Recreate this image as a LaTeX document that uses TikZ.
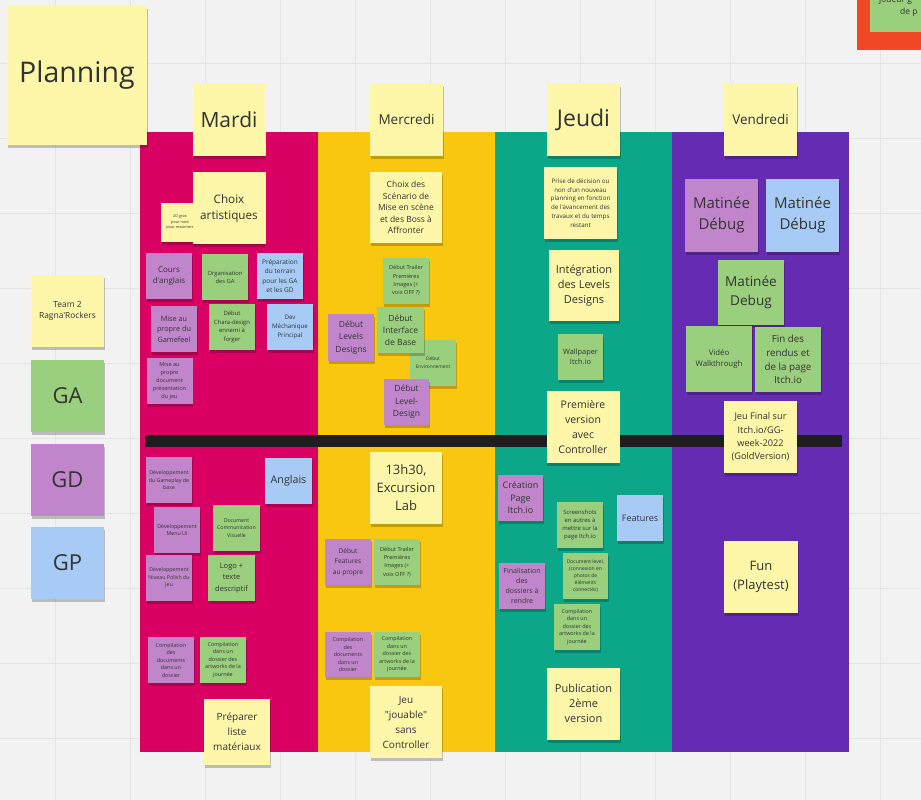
\documentclass[tikz,border=0pt]{standalone}
\usepackage{fontspec}
\setmainfont{Open Sans}[Ligatures=TeXOff]
\usetikzlibrary{shadows}

\definecolor{fond}{HTML}{F2F2F2}
\definecolor{grille}{HTML}{E4E4E4}
\definecolor{colmardi}{HTML}{DA0063}
\definecolor{colmercredi}{HTML}{FAC710}
\definecolor{coljeudi}{HTML}{0CA789}
\definecolor{colvendredi}{HTML}{652CB3}
\definecolor{barre}{HTML}{1E1E1E}
\definecolor{notejaune}{HTML}{FEF6A9}
\definecolor{notevert}{HTML}{9ACF7D}
\definecolor{noteviolet}{HTML}{C185CB}
\definecolor{notebleu}{HTML}{A7CBF4}
\definecolor{rouge}{HTML}{F24726}
\definecolor{encre}{HTML}{333333}

\newcommand\taille[2]{\fontsize{#1}{#2}\selectfont}

\begin{document}
\begin{tikzpicture}[x=1pt, y=-1pt]
\tikzset{postit/.style={rectangle, inner sep=0pt, align=center, text=encre,
    drop shadow={shadow xshift=0.5pt, shadow yshift=-3pt, opacity=0.22, fill=black}},
  jaune/.style={postit, fill=notejaune},
  vert/.style={postit, fill=notevert},
  violet/.style={postit, fill=noteviolet},
  bleu/.style={postit, fill=notebleu},
  grand/.style={minimum width=73pt, minimum height=72pt},
  moyen/.style={minimum width=66pt, minimum height=66pt},
  petit/.style={minimum width=46pt, minimum height=46pt}}
\useasboundingbox (0,0) rectangle (921,800);
\fill[fond] (0,0) rectangle (921,800);
\foreach \x in {55,130,...,880} \draw[grille, line width=0.8pt] (\x,0) -- (\x,800);
\foreach \y in {63,138,...,738} \draw[grille, line width=0.8pt] (0,\y) -- (921,\y);
% colonnes des jours
\fill[colmardi] (140,132) rectangle (318,752);
\fill[colmercredi] (318,132) rectangle (495,752);
\fill[coljeudi] (495,132) rectangle (672,752);
\fill[colvendredi] (672,132) rectangle (849,752);
\fill[barre] (145,435) rectangle (842,447);
% coin haut droit
\fill[rouge] (857,-10) rectangle (930,50);
\fill[notevert] (870,-10) rectangle (930,32);
\node[anchor=base west, text=encre, font=\taille{8.5}{11}, inner sep=0pt] (coinA) at (879,3) {joueur g};
\node[anchor=base west, text=encre, font=\taille{8.5}{11}, inner sep=0pt] (coinB) at (900,15) {de p};
% titres
\node[jaune, minimum width=140pt, minimum height=139pt, font=\taille{28.5}{36}] (planning) at (77,75.5) {Planning};
\node[jaune, grand, font=\taille{21}{28}] (mardi) at (229,119.5) {Mardi};
\node[jaune, grand, font=\taille{13.5}{18}] (mercredi) at (406.5,119.5) {Mercredi};
\node[jaune, grand, font=\taille{23}{30}] (jeudi) at (583.5,119.5) {Jeudi};
\node[jaune, grand, font=\taille{13.5}{18}] (vendredi) at (760.5,119.5) {Vendredi};
% equipe
\node[jaune, grand, font=\taille{8.4}{11.6}] (team) at (67.5,311) {Team 2\\Ragna'Rockers};
\node[vert, grand, font=\taille{22}{28}] (GA) at (67.5,395.5) {GA};
\node[violet, grand, font=\taille{22}{28}] (GD) at (67.5,479.5) {GD};
\node[bleu, grand, font=\taille{22}{28}] (GP) at (67.5,562.5) {GP};
% mardi
\node[jaune, minimum width=39pt, minimum height=39pt, font=\taille{3.8}{5.5}] (gros) at (180,222.5) {2D gros\\pour note\\pour maximme};
\node[jaune, grand, font=\taille{11.7}{16}] (choix) at (229,208) {Choix\\artistiques};
\node[violet, petit, font=\taille{8}{11}] (cours) at (169,276) {Cours\\d'anglais};
\node[vert, petit, font=\taille{5.8}{8}] (orga) at (225,277) {Organisation\\des GA};
\node[bleu, petit, font=\taille{6.5}{9.3}] (prepa) at (280,276) {Préparation\\du terrain\\pour les GA\\et les GD};
\node[violet, petit, font=\taille{7.3}{10.5}] (gamefeel) at (174,329) {Mise au\\propre du\\Gamefeel};
\node[vert, petit, font=\taille{5.9}{8.6}] (chara) at (232,327) {Début\\Chara-design\\ennemi à\\forger};
\node[bleu, petit, font=\taille{6.2}{8.7}] (meca) at (290,327) {Dev\\Méchanique\\Principal};
\node[violet, petit, font=\taille{5.6}{8}] (presjeu) at (169.5,381) {Mise au\\propre\\document\\présentation\\du jeu};
\node[violet, petit, font=\taille{5.3}{7.5}] (devgp) at (169,480) {Développement\\du Gameplay de\\base};
\node[bleu, petit, minimum width=47pt, font=\taille{10.7}{14}] (anglais) at (288.5,481) {Anglais};
\node[violet, petit, font=\taille{5.3}{7.5}] (devmenu) at (177,530) {Développement\\Menu UI};
\node[vert, petit, minimum width=47pt, font=\taille{5.2}{7.5}] (docvis) at (236.5,528) {Document\\Communication\\Visuelle};
\node[violet, petit, font=\taille{5.3}{7.5}] (devpolish) at (169,578) {Développement\\Niveau Polish du\\jeu};
\node[vert, petit, minimum width=47pt, font=\taille{7.5}{11.5}] (logo) at (231.5,578) {Logo +\\texte\\descriptif};
\node[violet, petit, font=\taille{5.4}{7.5}] (compdoc) at (171,660) {Compilation\\des\\documents\\dans un\\dossier};
\node[vert, petit, font=\taille{5.4}{7.5}] (compart) at (223,660) {Compilation\\dans un\\dossier des\\artworks de la\\journée};
\node[jaune, moyen, font=\taille{10}{15}] (materiel) at (237,732) {Préparer\\liste\\matériaux};
% mercredi
\node[jaune, grand, minimum width=72pt, minimum height=71pt, font=\taille{8.5}{11.5}] (scenario) at (406,207.5) {Choix des\\Scénario de\\Mise en scène\\et des Boss à\\Affronter};
\node[vert, petit, font=\taille{5.6}{8.2}] (trailerA) at (406,280.5) {Début Trailer\\Premières\\Images (+\\voix OFF ?)};
\node[violet, petit, minimum height=47pt, font=\taille{8.5}{12.5}] (levels) at (351,337.5) {Début\\Levels\\Designs};
\node[vert, petit, font=\taille{4.8}{7.7}] (env) at (433,363) {Début\\Environnement};
\node[vert, petit, minimum width=47pt, font=\taille{8.5}{12}] (interface) at (400.5,330) {Début\\Interface\\de Base};
\node[violet, petit, minimum width=45pt, font=\taille{8.5}{12.5}] (leveldesign) at (406.5,402) {Début\\Level-\\Design};
\node[jaune, grand, minimum width=72pt, font=\taille{13}{18}] (excursion) at (406,488) {13h30,\\Excursion\\Lab};
\node[violet, petit, font=\taille{6.6}{10.5}] (featprop) at (348,562) {Début\\Features\\au propre};
\node[vert, petit, font=\taille{5.6}{8.2}] (trailerB) at (397,562) {Début Trailer\\Premières\\Images (+\\voix OFF ?)};
\node[violet, petit, minimum height=45pt, font=\taille{5.4}{7.5}] (compdocB) at (348,654.5) {Compilation\\des\\documents\\dans un\\dossier};
\node[vert, petit, minimum height=45pt, font=\taille{5.4}{7.5}] (compartB) at (397,654.5) {Compilation\\dans un\\dossier des\\artworks de la\\journée};
\node[jaune, grand, minimum width=72pt, font=\taille{10}{15}] (jouable) at (406,722) {Jeu\\"jouable"\\sans\\Controller};
% jeudi
\node[jaune, grand, font=\taille{6.2}{8.7}] (decision) at (580.5,203) {Prise de décision ou\\non d'un nouveau\\planning en fonction\\de l'avancement des\\travaux et du temps\\restant};
\node[jaune, grand, minimum width=70pt, minimum height=71pt, font=\taille{11}{15}] (integration) at (584,285.5) {Intégration\\des Levels\\Designs};
\node[vert, petit, minimum width=45pt, font=\taille{7.4}{10.3}] (wallpaper) at (580.5,357) {Wallpaper\\Itch.io};
\node[jaune, grand, font=\taille{10.5}{15.3}] (premiere) at (583,427) {Première\\version\\avec\\Controller};
\node[violet, petit, minimum width=45pt, font=\taille{9}{12.5}] (creation) at (520.5,498) {Création\\Page\\Itch.io};
\node[bleu, petit, font=\taille{9}{12}] (features) at (640,518) {Features};
\node[vert, petit, font=\taille{5.9}{8.2}] (screens) at (580,525) {Screenshots\\en autres à\\mettre sur la\\page Itch.io};
\node[violet, petit, font=\taille{7}{10}] (finalisation) at (522,586) {Finalisation\\des\\dossiers à\\rendre};
\node[vert, petit, minimum width=45pt, font=\taille{5}{7}] (doclevel) at (585.5,576) {Document level,\\(connexion en\\photos de\\éléments\\connectés)};
\node[vert, petit, font=\taille{5.4}{7.5}] (compartC) at (577,627) {Compilation\\dans un\\dossier des\\artworks de la\\journée};
\node[jaune, grand, font=\taille{11}{15}] (publication) at (583.5,703.5) {Publication\\2ème\\version};
% vendredi
\node[violet, grand, minimum height=73pt, font=\taille{15}{21}] (matineeGD) at (721.5,215.5) {Matinée\\Débug};
\node[bleu, grand, minimum height=73pt, font=\taille{15}{21}] (matineeGP) at (802.5,215.5) {Matinée\\Débug};
\node[vert, moyen, minimum height=65pt, font=\taille{13.6}{19}] (matineeGA) at (751,292.5) {Matinée\\Debug};
\node[vert, moyen, font=\taille{7.8}{11}] (video) at (719,359) {Vidéo\\Walkthrough};
\node[vert, moyen, minimum height=65pt, font=\taille{9.8}{13.7}] (finrendus) at (788,359.5) {Fin des\\rendus et\\de la page\\Itch.io};
\node[jaune, grand, font=\taille{9.2}{13.3}] (final) at (760.5,437) {Jeu Final sur\\Itch.io/GG-\\week-2022\\(GoldVersion)};
\node[jaune, grand, minimum width=74pt, font=\taille{13}{19.5}] (fun) at (761,577) {Fun\\(Playtest)};
\end{tikzpicture}
\end{document}
